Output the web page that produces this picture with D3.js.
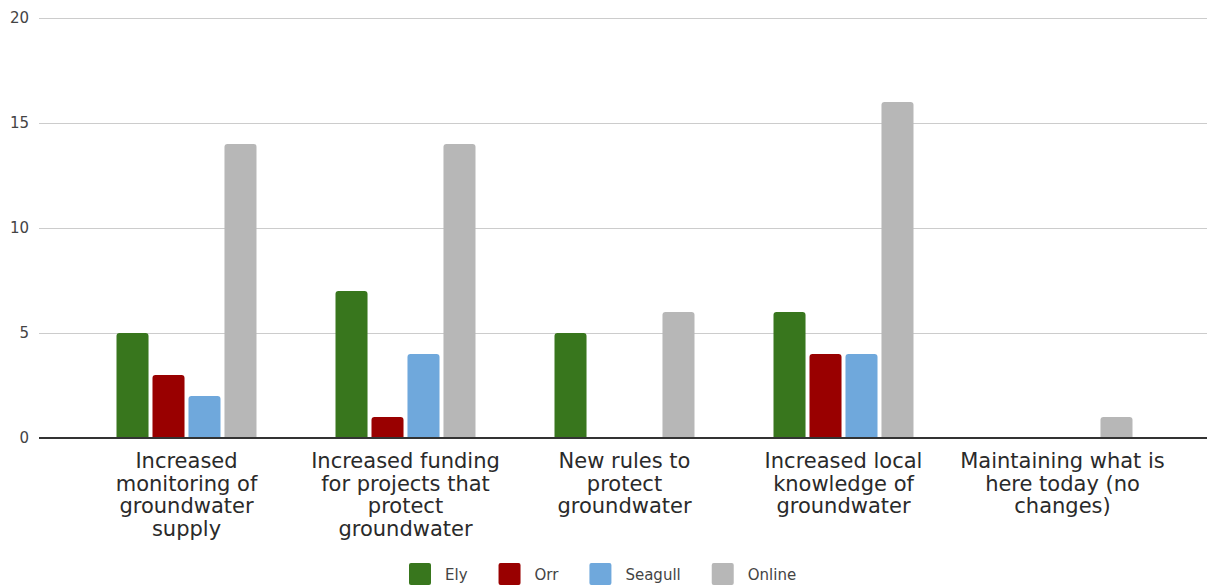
<!DOCTYPE html>
<html>
<head>
<meta charset="utf-8">
<script src="https://cdn.jsdelivr.net/npm/d3@7"></script>
<style>
  html, body { margin: 0; padding: 0; background: #fff; }
  svg { display: block; font-family: "DejaVu Sans", Verdana, sans-serif; }
</style>
</head>
<body>
<svg id="chart" width="1209" height="587"></svg>
<script>
// Survey answers: how groundwater should be protected, counted per location.
const categoryLines = [
  ["Increased", "monitoring of", "groundwater", "supply"],
  ["Increased funding", "for projects that", "protect", "groundwater"],
  ["New rules to", "protect", "groundwater"],
  ["Increased local", "knowledge of", "groundwater"],
  ["Maintaining what is", "here today (no", "changes)"]
];
const categories = categoryLines.map(l => l.join(" "));
const seriesNames = ["Ely", "Orr", "Seagull", "Online"];
const ely     = [5, 7, 5, 6, 0];
const orr     = [3, 1, 0, 4, 0];
const seagull = [2, 4, 0, 4, 0];
const online  = [14, 14, 6, 16, 1];
const seriesValues = [ely, orr, seagull, online];
const yTicks = [0, 5, 10, 15, 20];
const colors = ["#38761d", "#990000", "#6fa8dc", "#b7b7b7"];

const svg = d3.select("#chart");

const y = d3.scaleLinear().domain([0, 20]).range([438, 18]);
const x0 = d3.scaleBand().domain(categories).range([77, 1172]).padding(0);
const x1 = d3.scaleBand().domain(seriesNames).range([-70, 70]).paddingInner(0.11).paddingOuter(0);

// Horizontal gridlines and y tick labels
const yAxis = d3.axisLeft(y).tickValues(yTicks).tickSize(-(1207 - 39)).tickPadding(10);
const gy = svg.append("g").attr("transform", "translate(39,0)").call(yAxis)
  .attr("font-family", null).attr("font-size", null);
gy.select(".domain").remove();
gy.selectAll(".tick line").attr("stroke", "#cccccc").attr("stroke-width", 1);
gy.selectAll(".tick text")
  .attr("fill", "#444").style("font-size", "15px").attr("x", -10);

// Bars with rounded tops
function topRounded(xp, w, yTop, yBase, r) {
  const h = yBase - yTop;
  r = Math.min(r, h, w / 2);
  return `M${xp},${yBase}V${yTop + r}Q${xp},${yTop} ${xp + r},${yTop}` +
         `H${xp + w - r}Q${xp + w},${yTop} ${xp + w},${yTop + r}V${yBase}Z`;
}

const groups = svg.append("g").selectAll("g")
  .data(categories)
  .join("g")
  .attr("transform", d => `translate(${x0(d) + x0.bandwidth() / 2},0)`);

groups.selectAll("path")
  .data((c, i) => seriesNames.map((s, k) => ({ s, k, v: seriesValues[k][i] })))
  .join("path")
  .filter(d => d.v > 0)
  .attr("d", d => topRounded(x1(d.s), x1.bandwidth(), y(d.v), y(0), 3))
  .attr("fill", d => colors[d.k]);

// Baseline
svg.append("line")
  .attr("x1", 39).attr("x2", 1207)
  .attr("y1", y(0)).attr("y2", y(0))
  .attr("stroke", "#333").attr("stroke-width", 2);

// Category labels (multi-line)
const labels = svg.append("g").selectAll("text")
  .data(categoryLines)
  .join("text")
  .attr("text-anchor", "middle")
  .attr("fill", "#2a2a2a")
  .style("font-size", "21px")
  .attr("x", (d, i) => x0(categories[i]) + x0.bandwidth() / 2)
  .attr("y", 468);
labels.selectAll("tspan")
  .data(d => d)
  .join("tspan")
  .attr("x", function () { return d3.select(this.parentNode).attr("x"); })
  .attr("dy", (d, i) => i === 0 ? 0 : 22.5)
  .text(d => d);

// Legend
const legend = svg.append("g");
let lx = 409;
seriesNames.forEach((name, k) => {
  legend.append("rect")
    .attr("x", lx).attr("y", 563).attr("width", 22).attr("height", 22)
    .attr("rx", 2).attr("fill", colors[k]);
  const t = legend.append("text")
    .attr("x", lx + 36).attr("y", 580)
    .attr("fill", "#444").style("font-size", "15px")
    .text(name);
  lx += 36 + t.node().getComputedTextLength() + 31;
});
</script>
</body>
</html>
